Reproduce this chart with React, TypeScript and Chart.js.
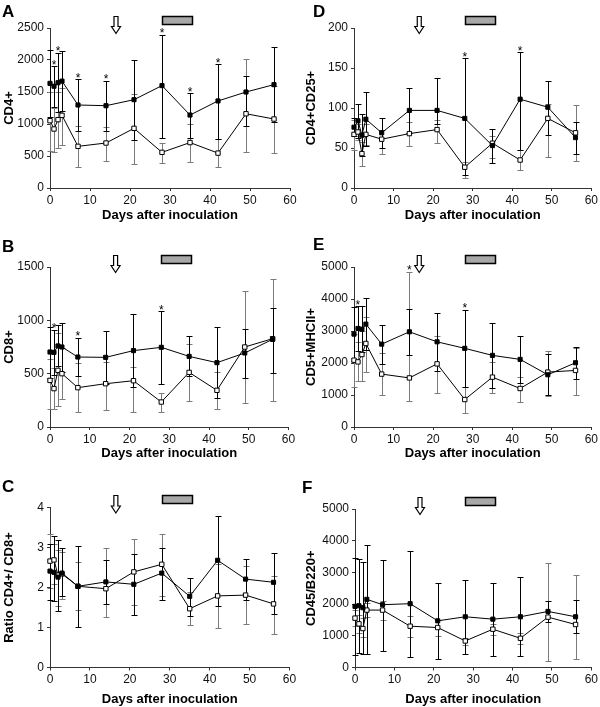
import React, { useEffect, useRef } from 'react';
import { Chart, registerables } from 'chart.js';

Chart.register(...registerables);

const FONT = '"Liberation Sans", Arial, Helvetica, sans-serif';

// ---------- shared data ----------
const days = [0, 1, 2, 3, 7, 14, 21, 28, 35, 42, 49, 56];
const xTitle = 'Days after inoculation';
const arrowDay = 16.5;
const barStartDay = 28;
const barEndDay = 35.5;

// ---------- A: CD4+ ----------
const cd4Filled = [1635, 1590, 1645, 1670, 1297, 1286, 1380, 1600, 1140, 1360, 1500, 1615];
const cd4FilledHi = [2160, 1900, 2110, 2146, 1703, 1677, 2005, 2396, 1480, 1937, 1745, 2198];
const cd4FilledLo = [1110, 1265, 1180, 1200, 885, 890, 755, 780, 780, 770, 975, 1030];
const cd4Open = [1052, 922, 1068, 1135, 651, 703, 932, 557, 710, 545, 1160, 1078];
const cd4OpenHi = [1500, 1250, 1500, 1560, 963, 960, 1474, 710, 1000, 760, 2015, 1600];
const cd4OpenLo = [573, 557, 625, 677, 323, 427, 375, 390, 406, 330, 560, 550];
const cd4Stars = [1, 2, 7, 14, 28, 35, 42];

// ---------- D: CD4+CD25+ ----------
const cd25Filled = [76, 84, 66, 86, 69, 97, 97, 87, 53, 111, 101, 63];
const cd25FilledHi = [87, 105, 92, 120, 88, 125, 137, 162, 74, 170, 134, 83];
const cd25FilledLo = [65, 63, 40, 52, 50, 69, 80, 16, 31, 48, 66, 42];
const cd25Open = [67, 70, 43, 67, 61, 68, 73, 26, 56, 35, 87, 69];
const cd25OpenHi = [85, 80, 58, 80, 72, 82, 85, 33, 65, 47, 105, 104];
const cd25OpenLo = [47, 60, 28, 54, 43, 53, 56, 12, 38, 22, 39, 34];
const cd25Stars = [28, 42];

// ---------- B: CD8+ ----------
const cd8Filled = [703, 700, 760, 750, 656, 653, 716, 747, 662, 603, 694, 822];
const cd8FilledHi = [940, 912, 953, 978, 837, 900, 1056, 1084, 850, 937, 920, 1120];
const cd8FilledLo = [460, 490, 570, 520, 475, 406, 376, 406, 478, 270, 460, 510];
const cd8Open = [437, 360, 531, 500, 369, 406, 434, 234, 512, 344, 750, 828];
const cd8OpenHi = [640, 550, 880, 740, 600, 610, 560, 320, 780, 520, 1272, 1390];
const cd8OpenLo = [172, 172, 194, 265, 140, 155, 140, 140, 240, 170, 225, 245];
const cd8Stars = [1, 7, 28];

// ---------- E: CD5+MHCII+ ----------
const mhcFilled = [2902, 3079, 3058, 3215, 2589, 2975, 2662, 2458, 2238, 2113, 1632, 2008];
const mhcFilledHi = [3760, 3780, 3780, 4020, 3200, 3700, 3550, 3661, 3264, 2845, 2270, 2500];
const mhcFilledLo = [2050, 2380, 2340, 2410, 1980, 2240, 1760, 1255, 1212, 1381, 1015, 1510];
const mhcOpen = [2088, 2035, 2265, 2610, 1653, 1534, 1973, 858, 1558, 1203, 1715, 1768];
const mhcOpenHi = [2900, 2650, 3000, 3445, 2300, 4850, 2830, 1250, 2020, 1560, 2390, 2480];
const mhcOpenLo = [1250, 1430, 1430, 1720, 990, 820, 1075, 430, 1067, 780, 980, 1015];
const mhcStars = [1, 14, 28];

// ---------- C: Ratio CD4+/CD8+ ----------
const ratioFilled = [2.41, 2.38, 2.26, 2.36, 2.03, 2.14, 2.08, 2.36, 1.78, 2.68, 2.21, 2.13];
const ratioFilledHi = [3.1, 3.3, 3.2, 2.99, 3.04, 2.68, 2.83, 3.0, 2.24, 3.8, 2.72, 2.87];
const ratioFilledLo = [1.7, 1.67, 1.42, 1.78, 1.02, 1.6, 1.31, 1.69, 1.3, 1.55, 1.69, 1.35];
const ratioOpen = [2.66, 2.69, 2.31, 2.34, 2.03, 1.97, 2.39, 2.58, 1.47, 1.79, 1.81, 1.59];
const ratioOpenHi = [3.35, 3.1, 2.95, 2.9, 2.63, 2.99, 3.21, 3.33, 1.9, 2.58, 2.53, 2.28];
const ratioOpenLo = [2.0, 2.1, 1.55, 1.72, 1.44, 1.27, 1.56, 1.78, 1.07, 1.0, 1.09, 0.84];
const ratioStars: number[] = [];

// ---------- F: CD45/B220+ ----------
const b220Filled = [1928, 1949, 1886, 2150, 1981, 2013, 1472, 1600, 1525, 1600, 1769, 1600];
const b220FilledHi = [3460, 3430, 3330, 3850, 3400, 3680, 2670, 2770, 2680, 2840, 2100, 2120];
const b220FilledLo = [390, 450, 440, 440, 520, 320, 270, 420, 370, 360, 1440, 1080];
const b220Open = [1557, 1377, 1229, 1811, 1811, 1303, 1261, 837, 1208, 922, 1589, 1356];
const b220OpenHi = [1800, 1650, 1550, 2050, 2100, 1640, 1500, 940, 1380, 1090, 3290, 2920];
const b220OpenLo = [1300, 1100, 950, 1580, 1500, 960, 990, 720, 1030, 750, 210, 260];
const b220Stars: number[] = [];

type PanelDef = {
  letter: string;
  yTitle: string;
  yMax: number;
  yStep: number;
  filled: number[];
  filledHi: number[];
  filledLo: number[];
  open: number[];
  openHi: number[];
  openLo: number[];
  stars: number[];
  left: number;
  top: number;
  w: number;
  h: number;
  plotL: number;
  plotT: number;
  plotR: number;
  plotB: number;
  letterX: number;
  letterY: number;
  yTitlePad: number;
  xTitlePad: number;
};

const panels: PanelDef[] = [
  {
    letter: 'A', yTitle: 'CD4+', yMax: 2500, yStep: 500,
    filled: cd4Filled, filledHi: cd4FilledHi, filledLo: cd4FilledLo,
    open: cd4Open, openHi: cd4OpenHi, openLo: cd4OpenLo, stars: cd4Stars,
    left: 0, top: 0, w: 300, h: 226, plotL: 50, plotT: 28, plotR: 290, plotB: 188,
    letterX: 2, letterY: 17, yTitlePad: 2, xTitlePad: 3,
  },
  {
    letter: 'D', yTitle: 'CD4+CD25+', yMax: 200, yStep: 50,
    filled: cd25Filled, filledHi: cd25FilledHi, filledLo: cd25FilledLo,
    open: cd25Open, openHi: cd25OpenHi, openLo: cd25OpenLo, stars: cd25Stars,
    left: 300, top: 0, w: 300, h: 226, plotL: 354, plotT: 28, plotR: 593, plotB: 188,
    letterX: 13, letterY: 17, yTitlePad: 3.5, xTitlePad: 3,
  },
  {
    letter: 'B', yTitle: 'CD8+', yMax: 1500, yStep: 500,
    filled: cd8Filled, filledHi: cd8FilledHi, filledLo: cd8FilledLo,
    open: cd8Open, openHi: cd8OpenHi, openLo: cd8OpenLo, stars: cd8Stars,
    left: 0, top: 230, w: 300, h: 234, plotL: 50, plotT: 267, plotR: 288.5, plotB: 427,
    letterX: 2, letterY: 22, yTitlePad: 2, xTitlePad: 3,
  },
  {
    letter: 'E', yTitle: 'CD5+MHCII+', yMax: 5000, yStep: 1000,
    filled: mhcFilled, filledHi: mhcFilledHi, filledLo: mhcFilledLo,
    open: mhcOpen, openHi: mhcOpenHi, openLo: mhcOpenLo, stars: mhcStars,
    left: 300, top: 230, w: 300, h: 234, plotL: 354, plotT: 267, plotR: 593, plotB: 427,
    letterX: 13, letterY: 20, yTitlePad: 3.5, xTitlePad: 3,
  },
  {
    letter: 'C', yTitle: 'Ratio CD4+/ CD8+', yMax: 4, yStep: 1,
    filled: ratioFilled, filledHi: ratioFilledHi, filledLo: ratioFilledLo,
    open: ratioOpen, openHi: ratioOpenHi, openLo: ratioOpenLo, stars: ratioStars,
    left: 0, top: 470, w: 300, h: 237, plotL: 50, plotT: 507.5, plotR: 289.5, plotB: 667.5,
    letterX: 2, letterY: 22, yTitlePad: 2, xTitlePad: 0,
  },
  {
    letter: 'F', yTitle: 'CD45/B220+', yMax: 5000, yStep: 1000,
    filled: b220Filled, filledHi: b220FilledHi, filledLo: b220FilledLo,
    open: b220Open, openHi: b220OpenHi, openLo: b220OpenLo, stars: b220Stars,
    left: 300, top: 470, w: 300, h: 237, plotL: 355, plotT: 509, plotR: 592.5, plotB: 667.5,
    letterX: 2, letterY: 23, yTitlePad: 3.5, xTitlePad: 0,
  },
];

function makeDecor(def: PanelDef) {
  const drawErr = (ctx: CanvasRenderingContext2D, xs: any, ys: any, hi: number[], lo: number[], color: string) => {
    ctx.save();
    ctx.strokeStyle = color;
    ctx.lineWidth = 1;
    for (let i = 0; i < days.length; i++) {
      const px = Math.round(xs.getPixelForValue(days[i])) + 0.5;
      const yh = Math.round(ys.getPixelForValue(hi[i])) + 0.5;
      const yl = Math.round(ys.getPixelForValue(lo[i])) + 0.5;
      ctx.beginPath();
      ctx.moveTo(px, yh);
      ctx.lineTo(px, yl);
      ctx.moveTo(px - 3, yh);
      ctx.lineTo(px + 3, yh);
      ctx.moveTo(px - 3, yl);
      ctx.lineTo(px + 3, yl);
      ctx.stroke();
    }
    ctx.restore();
  };
  return {
    id: 'decor' + def.letter,
    beforeDatasetsDraw(chart: any) {
      const { ctx, scales } = chart;
      drawErr(ctx, scales.x, scales.y, def.openHi, def.openLo, '#7a7a7a');
      drawErr(ctx, scales.x, scales.y, def.filledHi, def.filledLo, '#000');
    },
    afterDraw(chart: any) {
      const { ctx, scales, chartArea } = chart;
      const xs = scales.x;
      const ys = scales.y;
      ctx.save();
      // panel letter
      ctx.fillStyle = '#000';
      ctx.font = `bold 17px ${FONT}`;
      ctx.textAlign = 'left';
      ctx.textBaseline = 'alphabetic';
      ctx.fillText(def.letter, def.letterX, def.letterY);

      // grey bar (treatment period)
      const top = chartArea.top - 12.5;
      const bx0 = xs.getPixelForValue(barStartDay);
      const bx1 = xs.getPixelForValue(barEndDay);
      ctx.fillStyle = '#a8a8a8';
      ctx.strokeStyle = '#000';
      ctx.lineWidth = 1.5;
      ctx.beginPath();
      ctx.rect(Math.round(bx0) + 0.5, Math.round(top) + 0.5, Math.round(bx1 - bx0), 8);
      ctx.fill();
      ctx.stroke();

      // hollow down arrow
      const cx = xs.getPixelForValue(arrowDay);
      const aTop = Math.round(top) + 0.5;
      const aBot = chartArea.top + 5.5;
      const headH = 7;
      ctx.beginPath();
      ctx.moveTo(cx - 2, aTop);
      ctx.lineTo(cx + 2, aTop);
      ctx.lineTo(cx + 2, aBot - headH);
      ctx.lineTo(cx + 4.5, aBot - headH);
      ctx.lineTo(cx, aBot);
      ctx.lineTo(cx - 4.5, aBot - headH);
      ctx.lineTo(cx - 2, aBot - headH);
      ctx.closePath();
      ctx.fillStyle = '#fff';
      ctx.fill();
      ctx.lineWidth = 1.2;
      ctx.strokeStyle = '#000';
      ctx.stroke();

      // significance asterisks
      ctx.fillStyle = '#000';
      ctx.font = `12px ${FONT}`;
      ctx.textAlign = 'center';
      ctx.textBaseline = 'alphabetic';
      def.stars.forEach((d) => {
        const i = days.indexOf(d);
        const topVal = Math.max(def.filledHi[i], def.openHi[i]);
        const py = ys.getPixelForValue(topVal);
        ctx.fillText('*', xs.getPixelForValue(d), py + 2.5);
      });
      ctx.restore();
    },
  };
}

const plainTick = (v: any) => String(v);

function Panel({ def }: { def: PanelDef }) {
  const ref = useRef<HTMLCanvasElement>(null);
  useEffect(() => {
    if (!ref.current) return;
    const yAxisW = def.plotL - def.left;
    const xAxisH = def.top + def.h - def.plotB;
    const padTop = def.plotT - def.top;
    const padRight = def.left + def.w - def.plotR;
    const axisColor = '#333';
    const chart = new Chart(ref.current, {
      type: 'line',
      data: {
        datasets: [
          {
            label: 'filled',
            data: days.map((d, i) => ({ x: d, y: def.filled[i] })),
            borderColor: '#000',
            borderWidth: 1,
            pointStyle: 'rect',
            pointRadius: 2.9,
            pointBackgroundColor: '#000',
            pointBorderColor: '#000',
            pointBorderWidth: 1,
            tension: 0,
            clip: false,
          },
          {
            label: 'open',
            data: days.map((d, i) => ({ x: d, y: def.open[i] })),
            borderColor: '#000',
            borderWidth: 1,
            pointStyle: 'rect',
            pointRadius: 3.1,
            pointBackgroundColor: '#fff',
            pointBorderColor: '#000',
            pointBorderWidth: 1,
            tension: 0,
            clip: false,
          },
        ],
      },
      options: {
        responsive: false,
        animation: false,
        devicePixelRatio: 1,
        events: [],
        layout: { padding: { top: padTop, right: padRight, left: 0, bottom: 0 } },
        plugins: {
          legend: { display: false },
          title: { display: false },
          tooltip: { enabled: false },
        },
        scales: {
          x: {
            type: 'linear',
            min: 0,
            max: 60,
            afterFit: (s: any) => { s.height = xAxisH; },
            ticks: { stepSize: 10, color: '#111', font: { family: FONT, size: 12 }, padding: 2, maxRotation: 0, callback: plainTick },
            grid: { display: true, drawOnChartArea: false, drawTicks: true, tickLength: 3, color: axisColor },
            border: { display: true, color: axisColor, width: 1 },
            title: {
              display: true,
              text: xTitle,
              color: '#000',
              font: { family: FONT, size: 13, weight: 'bold' },
              padding: { top: 0, bottom: def.xTitlePad },
            },
          },
          y: {
            type: 'linear',
            min: 0,
            max: def.yMax,
            afterFit: (s: any) => { s.width = yAxisW; },
            ticks: { stepSize: def.yStep, color: '#111', font: { family: FONT, size: 12 }, padding: 3, callback: plainTick },
            grid: { display: true, drawOnChartArea: false, drawTicks: true, tickLength: 3, color: axisColor },
            border: { display: true, color: axisColor, width: 1 },
            title: {
              display: true,
              text: def.yTitle,
              color: '#000',
              font: { family: FONT, size: 13, weight: 'bold' },
              padding: { top: def.yTitlePad, bottom: 0 },
            },
          },
        },
      } as any,
      plugins: [makeDecor(def)],
    } as any);
    return () => chart.destroy();
  }, [def]);
  return (
    <canvas
      ref={ref}
      width={def.w}
      height={def.h}
      style={{ position: 'absolute', left: def.left, top: def.top, width: def.w, height: def.h }}
    />
  );
}

export default function App() {
  return (
    <div style={{ position: 'absolute', left: 0, top: 0, width: 600, height: 707, background: '#fff', overflow: 'hidden' }}>
      {panels.map((p) => (
        <Panel key={p.letter} def={p} />
      ))}
    </div>
  );
}
